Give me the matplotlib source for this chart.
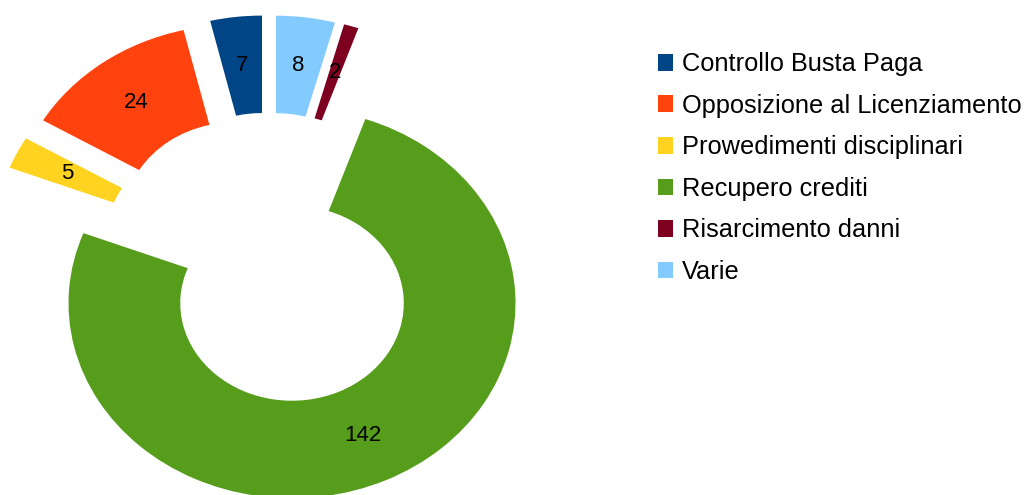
import matplotlib.pyplot as plt
from matplotlib.patches import Patch

plt.rcParams['font.family'] = ['Liberation Sans', 'DejaVu Sans']

categories = ['Controllo Busta Paga', 'Opposizione al Licenziamento',
              'Prowedimenti disciplinari', 'Recupero crediti',
              'Risarcimento danni', 'Varie']
values = [7, 24, 5, 142, 2, 8]
colors = ['#004586', '#ff420e', '#ffd320', '#579d1c', '#7e0021', '#83caff']

W, H = 1026, 495
fig = plt.figure(figsize=(W / 100, H / 100), dpi=100)

# donut is drawn slightly squashed, like the original
rx, ry = 223.5, 195.0      # pixels per data unit
cx, cy = 268.5, 495 - 259  # pie centre in pixels
xl, yl = 1.2, 1.3
ax = fig.add_axes([(cx - xl * rx) / W, (cy - yl * ry) / H,
                   2 * xl * rx / W, 2 * yl * ry / H])

wedges, texts = ax.pie(values, colors=colors, startangle=90, counterclock=True,
                       explode=[0.25] * len(values), radius=1.0,
                       labels=[str(v) for v in values], labeldistance=0.75,
                       wedgeprops=dict(width=0.5, linewidth=0),
                       textprops=dict(fontsize=16, color='black',
                                      ha='center', va='center'))
for t in texts:
    t.set_horizontalalignment('center')
ax.set_aspect('auto')
ax.set_xlim(-xl, xl)
ax.set_ylim(-yl, yl)
ax.axis('off')

handles = [Patch(facecolor=c, edgecolor='none') for c in colors]
fig.legend(handles, categories, loc='upper left',
           bbox_to_anchor=(648 / W, 1 - 42 / H), frameon=False,
           fontsize=18.3, handlelength=0.6, handleheight=0.63,
           handletextpad=0.32, labelspacing=0.69, borderaxespad=0)

fig.savefig('out.png', dpi=100)
